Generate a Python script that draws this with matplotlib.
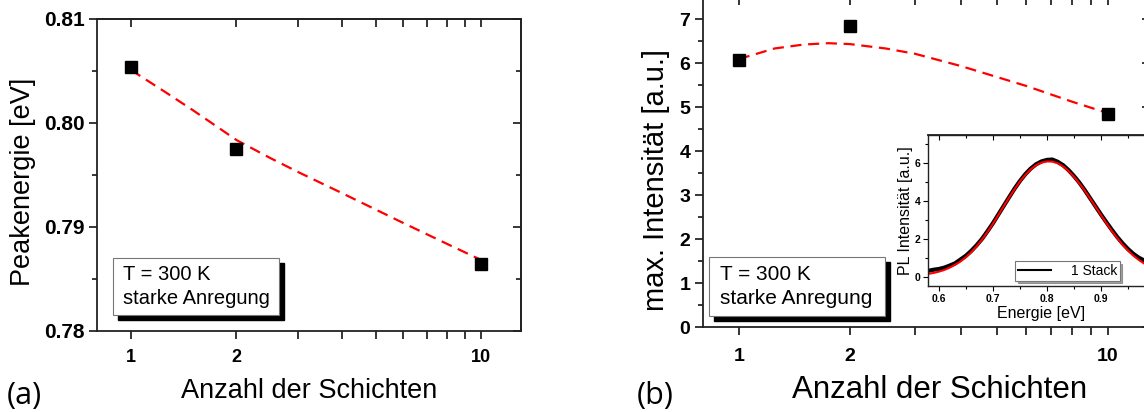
import matplotlib
matplotlib.use('Agg')
import matplotlib.pyplot as plt
from matplotlib.patches import Rectangle
from matplotlib.ticker import MultipleLocator, NullLocator

plt.rcParams['font.family'] = ['Liberation Sans', 'DejaVu Sans']

# measured points
layers = [1, 2, 10]
peak_energy = [0.8054, 0.7975, 0.7864]
max_intensity = [6.06, 6.83, 4.83]

# fit curves
fit_x = [1, 1.25, 1.5, 1.75, 2, 2.5, 3, 4, 6, 8, 10]
fit_energy = [0.8051, 0.8030, 0.80125, 0.79971, 0.79837, 0.79663, 0.79529,
              0.79327, 0.79038, 0.78837, 0.78683]
fit_intensity = [6.09, 6.33, 6.42, 6.45, 6.43, 6.33, 6.21, 5.93, 5.48, 5.12, 4.86]

# inset: PL spectrum of 1 stack
energy = [0.58, 0.59, 0.60, 0.61, 0.62, 0.63, 0.64, 0.65, 0.66, 0.67,
          0.68, 0.69, 0.70, 0.71, 0.72, 0.73, 0.74, 0.75, 0.76, 0.77,
          0.78, 0.79, 0.80, 0.81, 0.82, 0.83, 0.84, 0.85, 0.86, 0.87,
          0.88, 0.89, 0.90, 0.91, 0.92, 0.93, 0.94, 0.95, 0.96, 0.97, 0.98]
pl_data = [0.30, 0.36, 0.40, 0.47, 0.58, 0.70, 0.90, 1.10, 1.36, 1.66,
           2.00, 2.40, 2.82, 3.28, 3.74, 4.20, 4.65, 5.06, 5.42, 5.72,
           5.95, 6.10, 6.18, 6.20, 6.08, 5.90, 5.64, 5.33, 4.98, 4.58,
           4.15, 3.72, 3.29, 2.88, 2.48, 2.10, 1.76, 1.46, 1.20, 1.00, 0.85]
pl_fit = [0.14, 0.19, 0.26, 0.35, 0.47, 0.62, 0.80, 1.02, 1.29, 1.60,
          1.96, 2.36, 2.79, 3.25, 3.72, 4.18, 4.62, 5.03, 5.38, 5.68,
          5.90, 6.04, 6.10, 6.09, 6.00, 5.83, 5.59, 5.29, 4.94, 4.55,
          4.13, 3.70, 3.26, 2.83, 2.42, 2.04, 1.69, 1.38, 1.11, 0.88, 0.69]

x_ticks = [1, 2, 3, 4, 5, 6, 7, 8, 9, 10]
x_labels = ['1', '2', '', '', '', '', '', '', '', '10']

W, H = 1144, 412
fig = plt.figure(figsize=(W / 100, H / 100), dpi=100)


def mirror_ticks(ax, xt, xminor, yt, yminor, major=6, minor=3.5, width=1.1):
    # origin style: ticks out on bottom/left, in on top/right
    ax.tick_params(which='both', direction='out', width=width)
    ax.tick_params(which='major', length=major)
    ax.tick_params(which='minor', length=minor)
    top = ax.secondary_xaxis('top')
    top.set_xticks(xt)
    top.xaxis.set_minor_locator(xminor if xminor is not None else NullLocator())
    top.tick_params(which='both', direction='in', labeltop=False, width=width)
    top.tick_params(which='major', length=major)
    top.tick_params(which='minor', length=minor)
    right = ax.secondary_yaxis('right')
    right.set_yticks(yt)
    right.yaxis.set_minor_locator(yminor)
    right.tick_params(which='both', direction='in', labelright=False, width=width)
    right.tick_params(which='major', length=major)
    right.tick_params(which='minor', length=minor)
    for a in (ax, top, right):
        for s in a.spines.values():
            s.set_linewidth(1.3)
            s.set_color('#222222')


def text_box(ax, x0, y0, w, h, fs, tx, shadow_px=5):
    bb = ax.get_position()
    dx = shadow_px / (bb.width * W)
    dy = shadow_px / (bb.height * H)
    ax.add_patch(Rectangle((x0 + dx, y0 - dy), w, h, transform=ax.transAxes,
                           facecolor='black', edgecolor='black', zorder=5))
    ax.add_patch(Rectangle((x0, y0), w, h, transform=ax.transAxes,
                           facecolor='white', edgecolor='#777777', lw=0.8, zorder=6))
    ax.text(tx, y0 + h * 0.5, 'T = 300 K\nstarke Anregung',
            transform=ax.transAxes, fontsize=fs, va='center', ha='left',
            linespacing=1.3, zorder=7)


# ---- (a) peak energy
ax1 = fig.add_axes([97 / W, 81 / H, 424 / W, 312 / H])
ax1.plot(fit_x, fit_energy, color='red', lw=1.6, dashes=(5, 3), zorder=3)
ax1.plot(layers, peak_energy, 's', color='black', ms=8.5, zorder=4)
ax1.set_xscale('log')
ax1.set_xlim(0.8, 13)
ax1.set_ylim(0.78, 0.81)
ax1.set_xticks(x_ticks)
ax1.set_xticklabels(x_labels, fontsize=13, fontweight='bold')
ax1.xaxis.set_minor_locator(NullLocator())
y1 = [0.78, 0.79, 0.80, 0.81]
ax1.set_yticks(y1)
ax1.set_yticklabels(['%.2f' % v for v in y1], fontsize=15, fontweight='bold')
ax1.yaxis.set_minor_locator(MultipleLocator(0.005))
mirror_ticks(ax1, x_ticks, None, y1, MultipleLocator(0.005))
ax1.tick_params(axis='x', which='major', pad=7)
ax1.tick_params(axis='y', which='major', pad=3)
text_box(ax1, 0.038, 0.051, 0.392, 0.183, 14.5, 0.061)

fig.text(23 / W, 1 - 182 / H, 'Peakenergie [eV]', rotation=90, fontsize=19.5,
         ha='center', va='center')
fig.text(309 / W, 1 - 398 / H, 'Anzahl der Schichten', fontsize=19.5,
         ha='center', va='baseline')
fig.text(7 / W, 1 - 404 / H, '(a)', fontsize=22, family=['Open Sans', 'DejaVu Sans'],
         ha='left', va='baseline')

# ---- (b) max intensity
ax2 = fig.add_axes([703 / W, 85 / H, 447 / W, 330 / H])
ax2.plot(fit_x, fit_intensity, color='red', lw=1.6, dashes=(5, 3), zorder=3)
ax2.plot(layers, max_intensity, 's', color='black', ms=8.5, zorder=4)
ax2.set_xscale('log')
ax2.set_xlim(0.8, 13)
ax2.set_ylim(0, 7.5)
ax2.set_xticks(x_ticks)
ax2.set_xticklabels(x_labels, fontsize=14, fontweight='bold')
ax2.xaxis.set_minor_locator(NullLocator())
y2 = [0, 1, 2, 3, 4, 5, 6, 7]
ax2.set_yticks(y2)
ax2.set_yticklabels([str(v) for v in y2], fontsize=14, fontweight='bold')
ax2.yaxis.set_minor_locator(MultipleLocator(0.5))
mirror_ticks(ax2, x_ticks, None, y2, MultipleLocator(0.5))
ax2.tick_params(axis='x', which='major', pad=9)
ax2.tick_params(axis='y', which='major', pad=3)
text_box(ax2, 0.0134, 0.033, 0.394, 0.179, 15, 0.038)

fig.text(656 / W, 1 - 180 / H, 'max. Intensität [a.u.]', rotation=90, fontsize=21,
         ha='center', va='center')
fig.text(940 / W, 1 - 398 / H, 'Anzahl der Schichten', fontsize=22.5,
         ha='center', va='baseline')
fig.text(637 / W, 1 - 404 / H, '(b)', fontsize=22, family=['Open Sans', 'DejaVu Sans'],
         ha='left', va='baseline')

# ---- inset
ax3 = fig.add_axes([928 / W, 126 / H, 227 / W, 151 / H])
ax3.plot(energy, pl_data, color='black', lw=3, label='1 Stack')
ax3.plot(energy, pl_fit, color='red', lw=1.5)
ax3.set_xlim(0.58, 1.0)
ax3.set_ylim(-0.5, 7.5)
xi = [0.6, 0.7, 0.8, 0.9]
ax3.set_xticks(xi)
ax3.set_xticklabels(['%.1f' % v for v in xi], fontsize=7.5, fontweight='bold')
ax3.xaxis.set_minor_locator(MultipleLocator(0.05))
yi = [0, 2, 4, 6]
ax3.set_yticks(yi)
ax3.set_yticklabels([str(v) for v in yi], fontsize=7.5, fontweight='bold')
ax3.yaxis.set_minor_locator(MultipleLocator(1))
mirror_ticks(ax3, xi, MultipleLocator(0.05), yi, MultipleLocator(1),
             major=3.5, minor=2, width=0.8)
for s in ax3.spines.values():
    s.set_linewidth(1.0)
ax3.tick_params(which='major', pad=2)
ax3.set_xlabel('Energie [eV]', fontsize=11.5, labelpad=2)
ax3.set_ylabel('PL Intensität [a.u.]', fontsize=11.5, labelpad=1)
leg = ax3.legend(loc='lower right', bbox_to_anchor=(0.875, -0.01), fontsize=10,
                 frameon=True, fancybox=False, shadow=True, handlelength=2.4,
                 borderpad=0.2, handletextpad=1.4)
leg.get_frame().set_edgecolor('#777777')
leg.get_frame().set_linewidth(0.8)
for ln in leg.get_lines():
    ln.set_linewidth(1.5)

fig.savefig('out.png', dpi=100)
